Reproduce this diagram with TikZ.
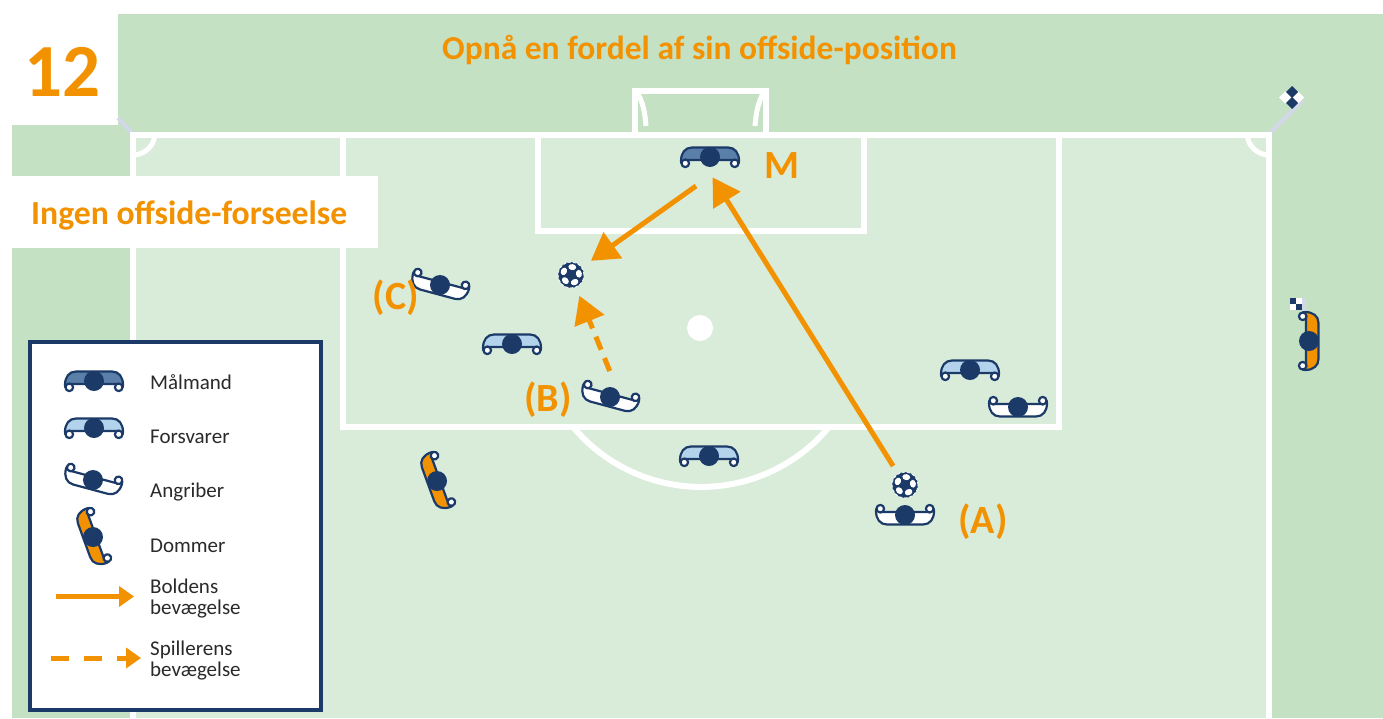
\documentclass[tikz,border=0pt]{standalone}
\usepackage{fontspec}
\usepackage{xcolor}
\usepackage{tikz}
\usetikzlibrary{arrows.meta}
\setmainfont{Carlito}

\definecolor{navy}{HTML}{1B3A68}
\definecolor{signal}{HTML}{F39200}
\definecolor{grass}{HTML}{C5E1C3}
\definecolor{pitch}{HTML}{D9EBD9}
\definecolor{flagpole}{HTML}{D3D8E8}
\definecolor{keeper_blue}{HTML}{5A7FA8}
\definecolor{defender_blue}{HTML}{B3D3EC}
\definecolor{legend_ink}{HTML}{2A2A2A}

\tikzstyle{pitch_line} =
  [ draw=white
  , line width=6pt
  ]
\tikzstyle{net_line} =
  [ draw=white
  , line width=5pt
  ]
\tikzstyle{flag_pole} =
  [ draw=flagpole
  , line width=4pt
  ]
\tikzstyle{player_head} =
  [ circle
  , fill=navy
  , minimum size=20pt
  , inner sep=0pt
  ]
\tikzstyle{player_line} =
  [ draw=navy
  , line width=2.2pt
  , line join=round
  ]
\tikzstyle{ball_node} =
  [ circle
  , fill=navy
  , draw=white
  , line width=0.8pt
  , dash pattern=on 3pt off 2pt
  , minimum size=26pt
  , inner sep=0pt
  ]
\tikzstyle{ball_move} =
  [ draw=signal
  , line width=5pt
  , -{Triangle[length=27pt,width=31pt,fill=signal]}
  ]
\tikzstyle{player_move} =
  [ ball_move
  , dash pattern=on 14pt off 9pt
  ]
\tikzstyle{legend_ball_move} =
  [ draw=signal
  , line width=5pt
  , -{Triangle[length=15pt,width=20pt,fill=signal]}
  ]
\tikzstyle{legend_player_move} =
  [ legend_ball_move
  , dash pattern=on 17.7pt off 15.3pt
  ]
\tikzstyle{call_out} =
  [ text=signal
  , font=\bfseries\fontsize{40}{40}\selectfont
  , inner sep=0pt
  ]
\tikzstyle{legend_text} =
  [ text=legend_ink
  , anchor=west
  , align=left
  , inner sep=0pt
  , font=\fontsize{21}{20.5}\selectfont
  ]

% name, position, rotation, body colour
\newcommand{\Player}[4]{
  \begin{scope}[shift={(#2)},rotate=#3]
    \draw[player_line,fill=#4] (-29,4) .. controls (-29,-4) and (-25,-9.5) .. (-18,-9.5)
      -- (18,-9.5) .. controls (25,-9.5) and (29,-4) .. (29,4)
      .. controls (29,6) and (28.5,7) .. (27,6.5) -- (24,3) -- (-24,3) -- (-27,6.5)
      .. controls (-28.5,7) and (-29,6) .. (-29,4) -- cycle;
    \draw[player_line,fill=white] (-24.7,6.3) circle (3.8);
    \draw[player_line,fill=white] (24.7,6.3) circle (3.8);
  \end{scope}
  \node[player_head] (#1) at (#2) {};
}
% name, position
\newcommand{\Ball}[2]{
  \node[ball_node] (#1) at (#2) {};
  \foreach \a in {9,81,153,225,297}
    \fill[white,rotate around={\a:(#1)}] (#1) ++(8,0) ellipse (3 and 3.9);
}

\begin{document}
\begin{tikzpicture}[x=1pt,y=-1pt]
    \useasboundingbox (0,0) rectangle (1383,718);

    % Grass and pitch
    \fill[grass] (118,14) rectangle (1383,125);
    \fill[grass] (12,125) rectangle (1383,718);
    \fill[pitch] (133,134) rectangle (1269,718);

    % Corner flags
    \draw[flag_pole] (118,118) -- (133,134);
    \draw[flag_pole] (1269,134) -- (1303,100);
    \fill[white] (1285,91.5) -- (1291,97.5) -- (1285,103.5) -- (1279,97.5) -- cycle;
    \fill[white] (1298,91.5) -- (1304,97.5) -- (1298,103.5) -- (1292,97.5) -- cycle;
    \fill[navy] (1292,86) -- (1298,92) -- (1292,98) -- (1286,92) -- cycle;
    \fill[navy] (1292,97) -- (1298,103) -- (1292,109) -- (1286,103) -- cycle;

    % Pitch lines
    \draw[pitch_line] (133,718) -- (133,134.5) -- (1269,134.5) -- (1269,718);
    \draw[pitch_line] (343,134) -- (343,427) -- (1059,427) -- (1059,134);
    \draw[pitch_line] (538,134) -- (538,231) -- (864,231) -- (864,134);
    \draw[pitch_line] (635,134) -- (635,90.5) -- (766,90.5) -- (766,134);
    \draw[net_line] (637,92) .. controls (643,102) and (645,113) .. (646,126);
    \draw[net_line] (764,92) .. controls (758,102) and (756,113) .. (755,126);
    \draw[net_line] (133,155) arc[start angle=90,end angle=0,radius=22];
    \draw[net_line] (1269,155) arc[start angle=90,end angle=180,radius=22];
    \draw[pitch_line] (829,427) arc[start angle=39.8,end angle=140.2,radius=166.5];
    \fill[white] (700,328) circle (13);

    % Number and headings
    \fill[white] (12,176) rectangle (378,248);
    \node[text=signal,font=\bfseries\fontsize{75}{75}\selectfont,inner sep=0pt] (number) at (62.5,72) {12};
    \node[text=signal,font=\bfseries\fontsize{33.5}{33.5}\selectfont,inner sep=0pt] (title) at (699.5,50) {Opnå en fordel af sin offside-position};
    \node[text=signal,font=\bfseries\fontsize{33.7}{33.7}\selectfont,inner sep=0pt,anchor=west] (verdict) at (31,216) {Ingen offside-forseelse};

    % Players on the pitch
    \Player{keeper}{710,157}{0}{keeper_blue}
    \Player{defender_left}{512,344}{0}{defender_blue}
    \Player{defender_mid}{709,456}{0}{defender_blue}
    \Player{defender_right}{970,370}{0}{defender_blue}
    \Player{attacker_a}{905,515}{180}{white}
    \Player{attacker_b}{610,397}{165}{white}
    \Player{attacker_c}{440,285}{165}{white}
    \Player{attacker_right}{1018,407}{180}{white}
    \Player{referee}{437,481}{110}{signal}
    \Player{linesman}{1309,341}{-90}{signal}

    % Linesman flag
    \fill[flagpole] (1301,298) rectangle (1306,311);
    \fill[navy] (1290,298) rectangle (1296,304);
    \fill[white] (1296,298) rectangle (1302,304);
    \fill[white] (1290,304) rectangle (1296,310);
    \fill[navy] (1296,304) rectangle (1302,310);

    \Ball{ball_b}{571,275}
    \Ball{ball_a}{905,485}

    % Pass from (A), save and run of (B)
    \coordinate (save_start) at (696,186);
    \draw[ball_move,shorten <=9pt,shorten >=24pt] (ball_a) -- (keeper.west);
    \draw[ball_move,shorten >=11pt] (save_start) -- (ball_b);
    \draw[player_move,shorten <=28pt,shorten >=9pt] (attacker_b.east) -- (ball_b);

    \node[call_out] (label_m) at (782,166) {M};
    \node[call_out] (label_a) at (983,522) {(A)};
    \node[call_out] (label_b) at (548,400) {(B)};
    \node[call_out] (label_c) at (396,298) {(C)};

    % Legend
    \draw[draw=navy,fill=white,line width=3.5pt] (30,342) rectangle (321,710);
    \Player{legend_keeper}{94,381}{0}{keeper_blue}
    \Player{legend_defender}{94,428}{0}{defender_blue}
    \Player{legend_attacker}{93,480}{165}{white}
    \Player{legend_referee}{93,537}{110}{signal}
    \node[legend_text] (text_keeper)   at (150,382.5) {Målmand};
    \node[legend_text] (text_defender) at (150,437) {Forsvarer};
    \node[legend_text] (text_attacker) at (150,492) {Angriber};
    \node[legend_text] (text_referee)  at (150,546) {Dommer};
    \node[legend_text] (text_ball)     at (150,598.5) {Boldens\\bevægelse};
    \node[legend_text] (text_player)   at (150,660.5) {Spillerens\\bevægelse};
    \coordinate (legend_ball_start) at (56,596.5);
    \coordinate (legend_ball_end) at (134,596.5);
    \coordinate (legend_player_start) at (51,658);
    \coordinate (legend_player_end) at (141,658);
    \draw[legend_ball_move] (legend_ball_start) -- (legend_ball_end);
    \draw[legend_player_move] (legend_player_start) -- (legend_player_end);

\end{tikzpicture}
\end{document}
